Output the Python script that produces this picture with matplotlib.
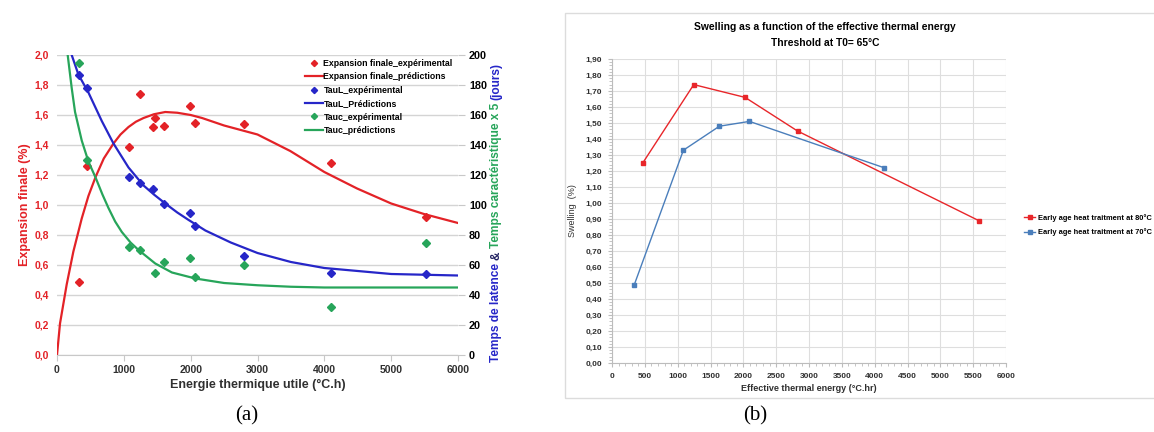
import matplotlib
matplotlib.use('Agg')
import matplotlib.pyplot as plt
from matplotlib.ticker import AutoMinorLocator
from matplotlib.patches import Rectangle

# ---------------- panel (a) data ----------------
x_exp = [330, 450, 1078, 1240, 1437, 1465, 1605, 1995, 2060, 2795, 4100, 5525]
exp_finale = [0.49, 1.26, 1.39, 1.74, 1.52, 1.58, 1.53, 1.66, 1.55, 1.54, 1.28, 0.92]
x_taul = [330, 450, 1078, 1240, 1437, 1605, 1995, 2060, 2795, 4100, 5525]
taul_exp = [187, 178, 119, 115, 111, 101, 95, 86, 66, 55, 54]
x_tauc = [330, 450, 1078, 1240, 1465, 1605, 1995, 2060, 2795, 4100, 5525]
tauc_exp = [195, 130, 72, 70, 55, 62, 65, 52, 60, 32, 75]

# prediction curves
x_pred_exp = [0, 45, 145, 245, 370, 470, 580, 700, 845, 950, 1070, 1180, 1295, 1450,
              1620, 1800, 2000, 2170, 2500, 3000, 3490, 4000, 4490, 5000, 5490, 6000]
pred_exp = [0, 0.21, 0.47, 0.69, 0.91, 1.06, 1.19, 1.31, 1.41, 1.47, 1.52, 1.555, 1.58,
            1.605, 1.62, 1.615, 1.60, 1.58, 1.53, 1.47, 1.36, 1.22, 1.11, 1.01, 0.94, 0.88]
x_pred_taul = [220, 320, 470, 670, 845, 1070, 1295, 1450, 1620, 1800, 1970, 2220, 2600,
               3000, 3500, 4000, 4500, 5000, 5500, 6000]
pred_taul = [200, 187, 175, 156, 141, 125, 113, 107, 101, 95, 90, 83, 75,
             68, 62, 58, 56, 54, 53.5, 53]
x_pred_tauc = [160, 220, 270, 370, 470, 580, 680, 770, 870, 970, 1100, 1220, 1470,
               1720, 2070, 2500, 3000, 3500, 4000, 5000, 6000]
pred_tauc = [200, 178, 162, 143, 129, 118, 107, 98, 89, 82, 75, 70, 61,
             55, 51, 48, 46.5, 45.5, 45, 45, 45]

xticks_a = [0, 1000, 2000, 3000, 4000, 5000, 6000]
yticks_a = [0, 0.2, 0.4, 0.6, 0.8, 1.0, 1.2, 1.4, 1.6, 1.8, 2.0]
ylabels_a = ['0,0', '0,2', '0,4', '0,6', '0,8', '1,0', '1,2', '1,4', '1,6', '1,8', '2,0']
y2ticks_a = [0, 20, 40, 60, 80, 100, 120, 140, 160, 180, 200]

# ---------------- panel (b) data ----------------
x_80 = [468, 1245, 2027, 2825, 5585]
sw_80 = [1.25, 1.74, 1.66, 1.45, 0.89]
x_70 = [340, 1087, 1636, 2093, 4146]
sw_70 = [0.49, 1.33, 1.48, 1.51, 1.22]

xticks_b = list(range(0, 6001, 500))
yticks_b = [i / 10 for i in range(20)]
ylabels_b = ['%.2f' % v for v in yticks_b]
ylabels_b = [s.replace('.', ',') for s in ylabels_b]

RED = '#e32227'
BLUE = '#2626c8'
GREEN = '#27a55a'
FONT = 'Liberation Sans'

plt.rcParams['font.family'] = FONT

fig = plt.figure(figsize=(11.54, 4.32), dpi=100)

# ============ (a) ============
ax1 = fig.add_axes([57 / 1154, 1 - 355 / 432, 401 / 1154, 300 / 432])
ax2 = ax1.twinx()

ax1.set_xlim(0, 6000)
ax1.set_ylim(0, 2.0)
ax2.set_ylim(0, 200)

ax1.set_yticks(yticks_a)
ax1.set_yticklabels(ylabels_a)
ax1.set_xticks(xticks_a)
ax2.set_yticks(y2ticks_a)
ax1.grid(axis='y', color='#d4d4d4', lw=1)
ax1.set_axisbelow(True)

for sp in ['top', 'left', 'right']:
    ax1.spines[sp].set_visible(False)
    ax2.spines[sp].set_visible(False)
ax1.spines['bottom'].set_color('#c8c8c8')
ax2.spines['bottom'].set_visible(False)

ax1.tick_params(axis='y', length=0, labelsize=7.5, labelcolor=RED, pad=6)
ax1.tick_params(axis='x', length=4, color='#c8c8c8', labelsize=7.5, pad=3)
ax2.tick_params(axis='y', length=5, color='#c8c8c8', labelsize=7.8, pad=3)
for lab in ax1.get_xticklabels() + ax1.get_yticklabels() + ax2.get_yticklabels():
    lab.set_fontweight('bold')
for lab in ax1.get_xticklabels():
    lab.set_color('#303030')

h1, = ax1.plot(x_exp, exp_finale, 'D', color=RED, ms=4.5, ls='none',
               label='Expansion finale_expérimental')
h2, = ax1.plot(x_pred_exp, pred_exp, '-', color=RED, lw=1.6,
               label='Expansion finale_prédictions')
h3, = ax2.plot(x_taul, taul_exp, 'D', color=BLUE, ms=4.5, ls='none',
               label='TauL_expérimental')
h4, = ax2.plot(x_pred_taul, pred_taul, '-', color=BLUE, lw=1.6,
               label='TauL_Prédictions')
h5, = ax2.plot(x_tauc, tauc_exp, 'D', color=GREEN, ms=4.5, ls='none',
               label='Tauc_expérimental')
h6, = ax2.plot(x_pred_tauc, pred_tauc, '-', color=GREEN, lw=1.6,
               label='Tauc_prédictions')

leg = fig.legend(handles=[h1, h2, h3, h4, h5, h6], loc='upper left',
                 bbox_to_anchor=(305 / 1154, 1 - 59 / 432), frameon=False,
                 prop={'family': FONT, 'weight': 'bold', 'size': 6.3},
                 handlelength=2.0, handletextpad=0.1, labelspacing=0.5,
                 borderpad=0, borderaxespad=0, markerscale=0.7)

ax1.set_xlabel('Energie thermique utile (°C.h)', fontsize=9, fontweight='bold',
               color='#303030', labelpad=3)
ax1.set_ylabel('Expansion finale (%)', fontsize=9, fontweight='bold', color=RED,
               labelpad=2)

# multi-coloured right axis label
LS = 8.6
t1 = fig.text(496 / 1154, 1 - 362 / 432, 'Temps de latence', rotation=90,
              color=BLUE, fontsize=LS, fontweight='bold', ha='center', va='bottom')
t2 = ax1.annotate('&', xy=(0.5, 1), xycoords=t1, xytext=(0, 2.2),
                  textcoords='offset points', rotation=90, color='#202060',
                  fontsize=LS, fontweight='bold', ha='center', va='bottom')
t3 = ax1.annotate('Temps caractéristique x 5', xy=(0.5, 1), xycoords=t2,
                  xytext=(0, 2.2), textcoords='offset points', rotation=90,
                  color=GREEN, fontsize=LS, fontweight='bold', ha='center', va='bottom')
t4 = ax1.annotate('(jours)', xy=(0.5, 1), xycoords=t3, xytext=(0, 2.2),
                  textcoords='offset points', rotation=90, color=BLUE,
                  fontsize=LS, fontweight='bold', ha='center', va='bottom')

fig.text(247 / 1154, 1 - 416 / 432, '(a)', fontsize=15, family='Liberation Serif',
         ha='center', va='center')

# ============ (b) ============
fig.add_artist(Rectangle((565 / 1154, 1 - 398 / 432), 600 / 1154, 385 / 432,
                         transform=fig.transFigure, fill=False,
                         edgecolor='#dcdcdc', lw=1))

ax3 = fig.add_axes([612 / 1154, 1 - 363 / 432, 394 / 1154, 304 / 432])
ax3.set_xlim(0, 6000)
ax3.set_ylim(0, 1.9)
ax3.set_xticks(xticks_b)
ax3.set_yticks(yticks_b)
ax3.set_yticklabels(ylabels_b)
ax3.xaxis.set_minor_locator(AutoMinorLocator(5))
ax3.yaxis.set_minor_locator(AutoMinorLocator(5))
ax3.grid(which='major', color='#dedede', lw=0.8)
ax3.set_axisbelow(True)
for sp in ['top', 'right']:
    ax3.spines[sp].set_visible(False)
for sp in ['left', 'bottom']:
    ax3.spines[sp].set_color('#bcbcbc')
ax3.tick_params(which='major', length=3, color='#bcbcbc', labelsize=6,
                labelcolor='#303030', pad=4)
ax3.tick_params(which='minor', length=2, color='#bcbcbc')
for lab in ax3.get_xticklabels() + ax3.get_yticklabels():
    lab.set_fontweight('bold')

ax3.plot(x_80, sw_80, '-s', color='#e8262a', lw=1.0, ms=2.5,
         label='Early age heat traitment at 80°C')
ax3.plot(x_70, sw_70, '-s', color='#4a7ebb', lw=1.0, ms=2.5,
         label='Early age heat traitment at 70°C')

ax3.set_xlabel('Effective thermal energy (°C.hr)', fontsize=6.5, fontweight='bold',
               color='#303030', labelpad=3)
ax3.set_ylabel('Swelling  (%)', fontsize=6.5, color='#303030', labelpad=6)

fig.text(825 / 1154, 1 - 27 / 432, 'Swelling as a function of the effective thermal energy',
         fontsize=7.4, fontweight='bold', ha='center', va='center')
fig.text(825 / 1154, 1 - 43 / 432, 'Threshold at T0= 65°C',
         fontsize=7.4, fontweight='bold', ha='center', va='center')

ax3.legend(loc='center left', bbox_to_anchor=(1024 / 1154, 1 - 225 / 432),
           bbox_transform=fig.transFigure, frameon=False,
           prop={'family': FONT, 'weight': 'bold', 'size': 5.4},
           handlelength=1.5, handletextpad=0.3, labelspacing=0.9,
           borderpad=0, borderaxespad=0)

fig.text(755 / 1154, 1 - 416 / 432, '(b)', fontsize=15, family='Liberation Serif',
         ha='center', va='center')

fig.savefig('out.png', dpi=100)
